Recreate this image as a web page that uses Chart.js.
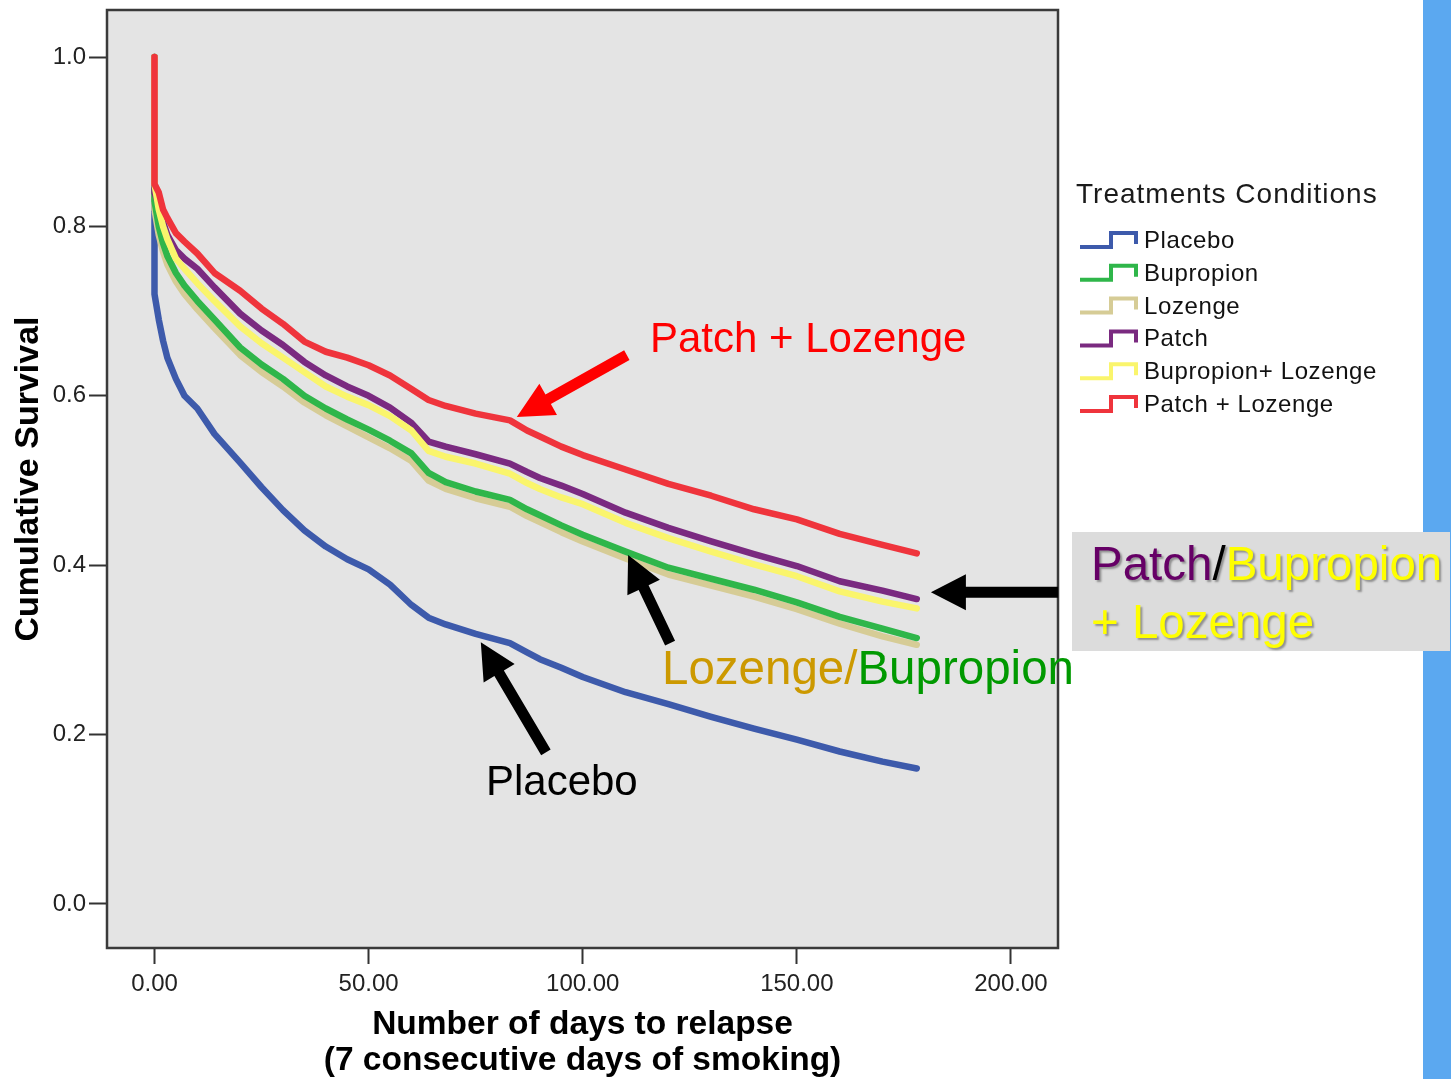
<!DOCTYPE html>
<html>
<head>
<meta charset="utf-8">
<script src="https://cdn.jsdelivr.net/npm/chart.js@4/dist/chart.umd.min.js"></script>
<style>
  html, body { margin: 0; padding: 0; background: #ffffff; }
  #wrap { position: relative; width: 1451px; height: 1079px; }
  canvas { display: block; }
</style>
</head>
<body>
<div id="wrap"><canvas id="survival" width="1451" height="1079"></canvas></div>
<script>
// Kaplan-Meier cumulative survival by treatment condition
const days = [0, 0, 1, 2, 3, 5, 7, 10, 14, 20, 25, 30, 35, 40, 45, 50, 55, 60, 64, 68, 75, 83, 87, 90, 95, 100, 110, 120, 130, 140, 150, 160, 170, 178];

const placebo   = [1.0, 0.72, 0.69, 0.665, 0.645, 0.62, 0.60, 0.585, 0.555, 0.521, 0.492, 0.465, 0.441, 0.422, 0.407, 0.395, 0.377, 0.353, 0.338, 0.330, 0.319, 0.308, 0.297, 0.289, 0.279, 0.268, 0.250, 0.236, 0.221, 0.207, 0.194, 0.180, 0.168, 0.160];
const bupropion = [1.0, 0.83, 0.80, 0.78, 0.765, 0.745, 0.73, 0.712, 0.69, 0.657, 0.637, 0.620, 0.600, 0.585, 0.572, 0.560, 0.547, 0.532, 0.509, 0.498, 0.487, 0.477, 0.466, 0.459, 0.447, 0.436, 0.416, 0.397, 0.384, 0.371, 0.356, 0.339, 0.325, 0.314];
const lozenge   = [1.0, 0.82, 0.79, 0.77, 0.755, 0.735, 0.72, 0.702, 0.680, 0.648, 0.628, 0.611, 0.592, 0.577, 0.564, 0.551, 0.538, 0.523, 0.500, 0.490, 0.479, 0.469, 0.458, 0.451, 0.439, 0.428, 0.408, 0.389, 0.376, 0.363, 0.348, 0.331, 0.316, 0.306];
const patch     = [1.0, 0.84, 0.825, 0.805, 0.79, 0.772, 0.762, 0.75, 0.728, 0.697, 0.677, 0.660, 0.640, 0.624, 0.611, 0.600, 0.586, 0.568, 0.546, 0.540, 0.531, 0.520, 0.510, 0.503, 0.494, 0.484, 0.462, 0.444, 0.428, 0.413, 0.399, 0.381, 0.370, 0.360];
const bupLozenge   = [1.0, 0.85, 0.82, 0.80, 0.785, 0.762, 0.750, 0.733, 0.712, 0.682, 0.662, 0.645, 0.628, 0.611, 0.599, 0.589, 0.576, 0.559, 0.535, 0.528, 0.520, 0.508, 0.497, 0.490, 0.480, 0.472, 0.450, 0.432, 0.416, 0.401, 0.387, 0.369, 0.357, 0.349];
const patchLozenge = [1.0, 0.85, 0.84, 0.82, 0.81, 0.792, 0.782, 0.768, 0.745, 0.724, 0.703, 0.685, 0.664, 0.652, 0.645, 0.636, 0.624, 0.608, 0.595, 0.588, 0.579, 0.571, 0.559, 0.552, 0.540, 0.530, 0.513, 0.496, 0.482, 0.466, 0.454, 0.437, 0.424, 0.414];

const seriesNames = ['Placebo', 'Bupropion', 'Lozenge', 'Patch', 'Bupropion+ Lozenge', 'Patch + Lozenge'];
const seriesValues = [placebo, bupropion, lozenge, patch, bupLozenge, patchLozenge];

const xTicks = [0, 50, 100, 150, 200];
const yTicks = [0, 0.2, 0.4, 0.6, 0.8, 1.0];

// line colours and stacking (lower order = drawn on top)
const lineColors = ['#3d5aab', '#2fb64a', '#d6cc96', '#7a2a80', '#faf56c', '#ef343c'];
const lineOrder  = [5, 3, 4, 2, 1, 0];

const FONT = "'Liberation Sans', Arial, sans-serif";

function drawArrow(ctx, x1, y1, x2, y2, shaft, headLen, headW, color) {
  const dx = x2 - x1, dy = y2 - y1;
  const len = Math.hypot(dx, dy);
  const ux = dx / len, uy = dy / len;
  const px = -uy, py = ux;
  const bx = x2 - ux * headLen, by = y2 - uy * headLen;
  ctx.save();
  ctx.fillStyle = color;
  ctx.beginPath();
  ctx.moveTo(x1 + px * shaft / 2, y1 + py * shaft / 2);
  ctx.lineTo(bx + px * shaft / 2, by + py * shaft / 2);
  ctx.lineTo(bx + px * headW / 2, by + py * headW / 2);
  ctx.lineTo(x2, y2);
  ctx.lineTo(bx - px * headW / 2, by - py * headW / 2);
  ctx.lineTo(bx - px * shaft / 2, by - py * shaft / 2);
  ctx.lineTo(x1 - px * shaft / 2, y1 - py * shaft / 2);
  ctx.closePath();
  ctx.fill();
  ctx.restore();
}

function drawRuns(ctx, runs, x, y) {
  let cx = x;
  runs.forEach(([txt, col]) => {
    ctx.fillStyle = col;
    ctx.fillText(txt, cx, y);
    cx += ctx.measureText(txt).width;
  });
}

const backdrop = {
  id: 'backdrop',
  beforeDraw(chart) {
    const { ctx, chartArea: a } = chart;
    ctx.save();
    ctx.fillStyle = '#ffffff';
    ctx.fillRect(0, 0, chart.width, chart.height);
    ctx.fillStyle = '#5ba8f0';
    ctx.fillRect(1423, 0, chart.width - 1423, chart.height);
    ctx.fillStyle = '#e4e4e4';
    ctx.fillRect(a.left, a.top, a.right - a.left, a.bottom - a.top);
    ctx.restore();
  },
  afterDatasetsDraw(chart) {
    const { ctx, chartArea: a } = chart;
    ctx.save();
    ctx.strokeStyle = '#3a3a3a';
    ctx.lineWidth = 2.5;
    ctx.strokeRect(a.left, a.top, a.right - a.left, a.bottom - a.top);
    ctx.restore();
  }
};

const annotations = {
  id: 'annotations',
  afterDraw(chart) {
    const { ctx } = chart;
    const xs = chart.scales.x, ys = chart.scales.y;
    const X = d => xs.getPixelForValue(d);
    const Y = v => ys.getPixelForValue(v);

    // legend
    ctx.save();
    ctx.textBaseline = 'alphabetic';
    ctx.textAlign = 'left';
    ctx.fillStyle = '#1a1a1a';
    ctx.font = '28px ' + FONT;
    ctx.letterSpacing = '1px';
    ctx.fillText('Treatments Conditions', 1076, 203);
    ctx.letterSpacing = '0.6px';
    ctx.font = '24px ' + FONT;
    seriesNames.forEach((name, i) => {
      const base = 248 + i * 32.8;
      ctx.strokeStyle = lineColors[i];
      ctx.lineWidth = 4;
      ctx.lineJoin = 'miter';
      ctx.beginPath();
      ctx.moveTo(1080, base - 1);
      ctx.lineTo(1111, base - 1);
      ctx.lineTo(1111, base - 15);
      ctx.lineTo(1136, base - 15);
      ctx.lineTo(1136, base - 4);
      ctx.stroke();
      ctx.fillStyle = '#111';
      ctx.fillText(name, 1144, base);
    });
    ctx.restore();

    // callout labels and arrows
    ctx.save();
    ctx.textBaseline = 'alphabetic';
    ctx.textAlign = 'left';
    ctx.font = '42px ' + FONT;
    ctx.fillStyle = '#ff0000';
    ctx.fillText('Patch + Lozenge', X(115.7), Y(0.652));
    drawArrow(ctx, X(110.3), Y(0.648), X(84.6), Y(0.575), 11, 36, 36, '#ff0000');

    ctx.fillStyle = '#000000';
    ctx.fillText('Placebo', X(77.4), Y(0.129));
    drawArrow(ctx, X(91.4), Y(0.179), X(76.2), Y(0.309), 11, 36, 36, '#000000');

    ctx.font = '47.5px ' + FONT;
    drawRuns(ctx, [['Lozenge/', '#cc9900'], ['Bupropion', '#009900']], X(118.5), Y(0.260));
    drawArrow(ctx, X(120.4), Y(0.308), X(110.6), Y(0.412), 11, 36, 36, '#000000');

    drawArrow(ctx, X(211), Y(0.368), X(181.3), Y(0.368), 11, 35, 36, '#000000');
    ctx.restore();

    // boxed label at right
    ctx.save();
    ctx.fillStyle = '#dcdcdc';
    ctx.fillRect(1072, 532, 1450 - 1072, 651 - 532);
    ctx.font = '47.5px ' + FONT;
    ctx.textBaseline = 'alphabetic';
    ctx.shadowColor = 'rgba(0,0,0,0.35)';
    ctx.shadowOffsetX = 2;
    ctx.shadowOffsetY = 2;
    ctx.shadowBlur = 2;
    drawRuns(ctx, [['Patch', '#660066'], ['/', '#000000'], ['Bupropion', '#ffff00']], 1091, 580);
    drawRuns(ctx, [['+ Lozenge', '#ffff00']], 1091, 638);
    ctx.restore();
  }
};

const datasets = seriesNames.map((name, i) => ({
  label: name,
  data: days.map((d, k) => ({ x: d, y: seriesValues[i][k] })),
  borderColor: lineColors[i],
  backgroundColor: lineColors[i],
  order: lineOrder[i],
  fill: false
}));

new Chart(document.getElementById('survival'), {
  type: 'line',
  data: { datasets },
  options: {
    responsive: false,
    animation: false,
    devicePixelRatio: 1,
    layout: { padding: { left: 0, top: 10, right: 393, bottom: 0 } },
    plugins: { legend: { display: false }, tooltip: { enabled: false } },
    elements: {
      point: { radius: 0 },
      line: { borderWidth: 6.5, tension: 0, borderJoinStyle: 'round', borderCapStyle: 'round' }
    },
    scales: {
      x: {
        type: 'linear',
        min: -11.09,
        max: 210.98,
        afterBuildTicks: s => { s.ticks = xTicks.map(v => ({ value: v })); },
        afterFit: s => { s.height = 131; s.paddingLeft = 0; s.paddingRight = 0; },
        border: { display: false },
        grid: { drawOnChartArea: false, drawTicks: true, tickLength: 16, tickWidth: 2, tickColor: '#333' },
        ticks: {
          callback: v => Number(v).toFixed(2),
          font: { family: FONT, size: 24 },
          color: '#222',
          padding: 6,
          maxRotation: 0,
          autoSkip: false
        },
        title: {
          display: true,
          text: ['Number of days to relapse', '(7 consecutive days of smoking)'],
          font: { family: FONT, size: 33.5, weight: 'bold', lineHeight: 1.05 },
          color: '#000',
          padding: { top: 0, bottom: 1 }
        }
      },
      y: {
        type: 'linear',
        min: -0.052,
        max: 1.0555,
        afterBuildTicks: s => { s.ticks = yTicks.map(v => ({ value: v })); },
        afterFit: s => { s.width = 107; s.paddingTop = 0; s.paddingBottom = 0; },
        border: { display: false },
        grid: { drawOnChartArea: false, drawTicks: true, tickLength: 18, tickWidth: 2, tickColor: '#333' },
        ticks: {
          callback: v => Number(v).toFixed(1),
          font: { family: FONT, size: 24 },
          color: '#222',
          padding: 3,
          autoSkip: false
        },
        title: {
          display: true,
          text: 'Cumulative Survival',
          font: { family: FONT, size: 34, weight: 'bold', lineHeight: 1.05 },
          color: '#000',
          padding: { top: 11, bottom: 0 }
        }
      }
    }
  },
  plugins: [backdrop, annotations]
});
</script>
</body>
</html>
